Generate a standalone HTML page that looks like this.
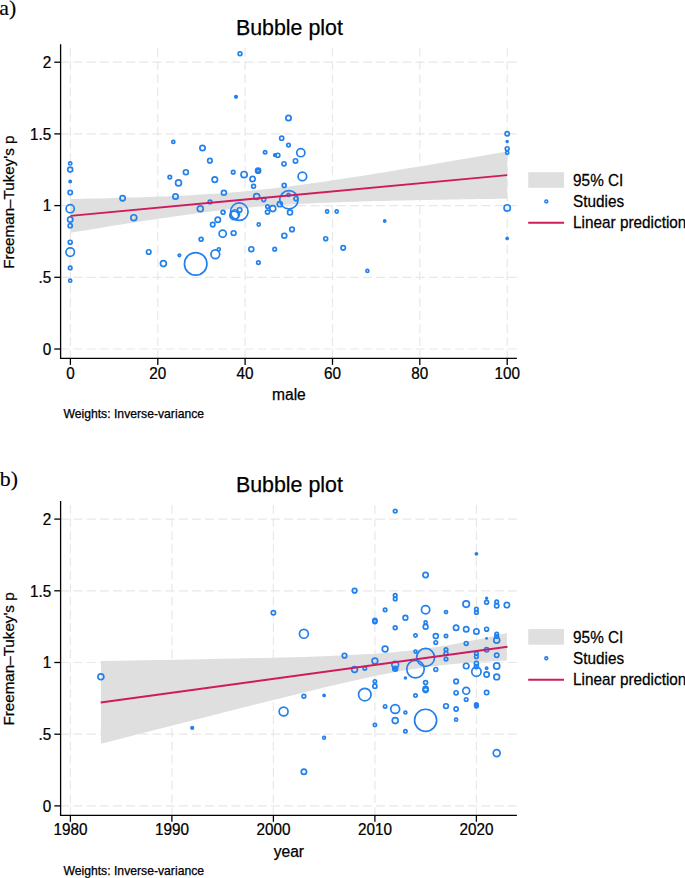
<!DOCTYPE html>
<html><head><meta charset="utf-8"><title>Bubble plots</title>
<style>html,body{margin:0;padding:0;background:#fff;width:685px;height:878px;overflow:hidden}svg{display:block}</style>
</head><body>
<svg width="685" height="878" viewBox="0 0 685 878">
<style>
text{font-family:"Liberation Sans",sans-serif;fill:#000;stroke:#000;stroke-width:0.25px}
.tk{font-size:16px}
.ti{font-size:15.6px}
.yt{font-size:15.2px}
.lg{font-size:16px}
.nt{font-size:12.2px}
.tt{font-size:21.4px}
.lab{font-family:"Liberation Serif",serif;font-size:21.8px;stroke-width:0.15px}
</style>
<rect width="685" height="878" fill="#fff"/>
<text x="-0.8" y="14.6" class="lab">a)</text>
<text x="-0.2" y="486.0" class="lab">b)</text>
<g id="a">
<line x1="60.3" y1="349.0" x2="516.9" y2="349.0" stroke="#e8e8e8" stroke-width="1.2" stroke-dasharray="9 4.16"/>
<line x1="60.3" y1="277.3" x2="516.9" y2="277.3" stroke="#e8e8e8" stroke-width="1.2" stroke-dasharray="9 4.16"/>
<line x1="60.3" y1="205.6" x2="516.9" y2="205.6" stroke="#e8e8e8" stroke-width="1.2" stroke-dasharray="9 4.16"/>
<line x1="60.3" y1="133.9" x2="516.9" y2="133.9" stroke="#e8e8e8" stroke-width="1.2" stroke-dasharray="9 4.16"/>
<line x1="60.3" y1="62.2" x2="516.9" y2="62.2" stroke="#e8e8e8" stroke-width="1.2" stroke-dasharray="9 4.16"/>
<line x1="70.4" y1="48.0" x2="70.4" y2="358.4" stroke="#e8e8e8" stroke-width="1.2" stroke-dasharray="8.8 4.35"/>
<line x1="157.8" y1="48.0" x2="157.8" y2="358.4" stroke="#e8e8e8" stroke-width="1.2" stroke-dasharray="8.8 4.35"/>
<line x1="245.1" y1="48.0" x2="245.1" y2="358.4" stroke="#e8e8e8" stroke-width="1.2" stroke-dasharray="8.8 4.35"/>
<line x1="332.5" y1="48.0" x2="332.5" y2="358.4" stroke="#e8e8e8" stroke-width="1.2" stroke-dasharray="8.8 4.35"/>
<line x1="419.8" y1="48.0" x2="419.8" y2="358.4" stroke="#e8e8e8" stroke-width="1.2" stroke-dasharray="8.8 4.35"/>
<line x1="507.2" y1="48.0" x2="507.2" y2="358.4" stroke="#e8e8e8" stroke-width="1.2" stroke-dasharray="8.8 4.35"/>
<polygon points="70.4,199.0 77.7,198.9 85.0,198.7 92.2,198.5 99.5,198.4 106.8,198.2 114.1,198.0 121.4,197.8 128.6,197.6 135.9,197.4 143.2,197.2 150.5,196.9 157.8,196.6 165.0,196.4 172.3,196.1 179.6,195.7 186.9,195.4 194.2,195.0 201.4,194.6 208.7,194.1 216.0,193.7 223.3,193.1 230.6,192.6 237.8,191.9 245.1,191.3 252.4,190.6 259.7,189.8 267.0,189.1 274.2,188.2 281.5,187.3 288.8,186.4 296.1,185.5 303.4,184.5 310.6,183.5 317.9,182.5 325.2,181.4 332.5,180.3 339.8,179.3 347.0,178.1 354.3,177.0 361.6,175.9 368.9,174.7 376.2,173.6 383.4,172.4 390.7,171.2 398.0,170.0 405.3,168.8 412.6,167.6 419.8,166.4 427.1,165.2 434.4,164.0 441.7,162.7 449.0,161.5 456.2,160.3 463.5,159.0 470.8,157.8 478.1,156.5 485.4,155.3 492.6,154.1 499.9,152.8 507.2,151.5 507.2,198.7 499.9,198.8 492.6,198.9 485.4,199.0 478.1,199.1 470.8,199.2 463.5,199.3 456.2,199.5 449.0,199.6 441.7,199.7 434.4,199.8 427.1,200.0 419.8,200.1 412.6,200.3 405.3,200.4 398.0,200.6 390.7,200.8 383.4,200.9 376.2,201.1 368.9,201.3 361.6,201.5 354.3,201.7 347.0,202.0 339.8,202.2 332.5,202.5 325.2,202.8 317.9,203.1 310.6,203.4 303.4,203.8 296.1,204.1 288.8,204.6 281.5,205.0 274.2,205.5 267.0,206.0 259.7,206.6 252.4,207.2 245.1,207.9 237.8,208.6 230.6,209.3 223.3,210.1 216.0,210.9 208.7,211.8 201.4,212.7 194.2,213.7 186.9,214.7 179.6,215.7 172.3,216.7 165.0,217.8 157.8,218.8 150.5,219.9 143.2,221.0 135.9,222.2 128.6,223.3 121.4,224.5 114.1,225.6 106.8,226.8 99.5,228.0 92.2,229.2 85.0,230.4 77.7,231.6 70.4,232.8" fill="#dfdfdf"/>
<circle cx="70.2" cy="163.4" r="1.60" fill="none" stroke="#2381ec" stroke-width="1.7"/>
<circle cx="70.2" cy="169.6" r="2.45" fill="none" stroke="#2381ec" stroke-width="1.7"/>
<circle cx="70.2" cy="181.5" r="1.90" fill="#2381ec"/>
<circle cx="70.2" cy="192.6" r="2.15" fill="none" stroke="#2381ec" stroke-width="1.7"/>
<circle cx="70.2" cy="208.7" r="4.05" fill="none" stroke="#2381ec" stroke-width="1.7"/>
<circle cx="70.2" cy="219.6" r="2.65" fill="none" stroke="#2381ec" stroke-width="1.7"/>
<circle cx="70.2" cy="225.7" r="2.05" fill="none" stroke="#2381ec" stroke-width="1.7"/>
<circle cx="70.2" cy="242.2" r="1.95" fill="none" stroke="#2381ec" stroke-width="1.7"/>
<circle cx="70.2" cy="252.1" r="4.25" fill="none" stroke="#2381ec" stroke-width="1.7"/>
<circle cx="70.2" cy="267.9" r="1.75" fill="none" stroke="#2381ec" stroke-width="1.7"/>
<circle cx="70.2" cy="280.7" r="1.55" fill="none" stroke="#2381ec" stroke-width="1.7"/>
<circle cx="122.6" cy="198.2" r="2.60" fill="none" stroke="#2381ec" stroke-width="1.7"/>
<circle cx="133.8" cy="217.7" r="2.95" fill="none" stroke="#2381ec" stroke-width="1.7"/>
<circle cx="148.7" cy="252.0" r="2.25" fill="none" stroke="#2381ec" stroke-width="1.7"/>
<circle cx="163.4" cy="263.6" r="2.95" fill="none" stroke="#2381ec" stroke-width="1.7"/>
<circle cx="179.4" cy="255.3" r="1.25" fill="none" stroke="#2381ec" stroke-width="1.7"/>
<circle cx="195.7" cy="263.9" r="11.25" fill="none" stroke="#2381ec" stroke-width="1.7"/>
<circle cx="173.3" cy="141.9" r="1.55" fill="none" stroke="#2381ec" stroke-width="1.7"/>
<circle cx="169.8" cy="177.1" r="1.75" fill="none" stroke="#2381ec" stroke-width="1.7"/>
<circle cx="175.5" cy="196.5" r="2.65" fill="none" stroke="#2381ec" stroke-width="1.7"/>
<circle cx="178.5" cy="182.9" r="2.95" fill="none" stroke="#2381ec" stroke-width="1.7"/>
<circle cx="185.9" cy="172.2" r="2.45" fill="none" stroke="#2381ec" stroke-width="1.7"/>
<circle cx="202.5" cy="148.0" r="2.65" fill="none" stroke="#2381ec" stroke-width="1.7"/>
<circle cx="209.9" cy="160.7" r="2.25" fill="none" stroke="#2381ec" stroke-width="1.7"/>
<circle cx="214.8" cy="179.6" r="2.75" fill="none" stroke="#2381ec" stroke-width="1.7"/>
<circle cx="223.9" cy="192.8" r="2.45" fill="none" stroke="#2381ec" stroke-width="1.7"/>
<circle cx="210.0" cy="201.9" r="1.80" fill="none" stroke="#2381ec" stroke-width="1.7"/>
<circle cx="200.3" cy="208.8" r="2.95" fill="none" stroke="#2381ec" stroke-width="1.7"/>
<circle cx="201.1" cy="239.3" r="1.95" fill="none" stroke="#2381ec" stroke-width="1.7"/>
<circle cx="223.1" cy="212.3" r="1.95" fill="none" stroke="#2381ec" stroke-width="1.7"/>
<circle cx="217.8" cy="219.7" r="2.65" fill="none" stroke="#2381ec" stroke-width="1.7"/>
<circle cx="212.7" cy="224.6" r="2.25" fill="none" stroke="#2381ec" stroke-width="1.7"/>
<circle cx="222.7" cy="233.7" r="3.60" fill="none" stroke="#2381ec" stroke-width="1.7"/>
<circle cx="233.6" cy="233.1" r="2.35" fill="none" stroke="#2381ec" stroke-width="1.7"/>
<circle cx="215.3" cy="254.2" r="4.35" fill="none" stroke="#2381ec" stroke-width="1.7"/>
<circle cx="218.8" cy="249.3" r="1.55" fill="none" stroke="#2381ec" stroke-width="1.7"/>
<circle cx="239.3" cy="211.7" r="8.75" fill="none" stroke="#2381ec" stroke-width="1.7"/>
<circle cx="239.6" cy="210.0" r="2.25" fill="none" stroke="#2381ec" stroke-width="1.7"/>
<circle cx="235.0" cy="214.3" r="4.55" fill="none" stroke="#2381ec" stroke-width="1.7"/>
<circle cx="234.2" cy="215.4" r="4.35" fill="none" stroke="#2381ec" stroke-width="1.7"/>
<circle cx="233.2" cy="172.2" r="1.75" fill="none" stroke="#2381ec" stroke-width="1.7"/>
<circle cx="244.1" cy="174.6" r="3.10" fill="none" stroke="#2381ec" stroke-width="1.7"/>
<circle cx="240.0" cy="53.8" r="1.90" fill="none" stroke="#2381ec" stroke-width="1.7"/>
<circle cx="236.0" cy="96.8" r="2.10" fill="#2381ec"/>
<circle cx="252.6" cy="179.0" r="2.65" fill="none" stroke="#2381ec" stroke-width="1.7"/>
<circle cx="253.6" cy="186.3" r="1.95" fill="none" stroke="#2381ec" stroke-width="1.7"/>
<circle cx="258.1" cy="170.7" r="2.00" fill="none" stroke="#2381ec" stroke-width="2.8"/>
<circle cx="256.7" cy="196.5" r="2.95" fill="none" stroke="#2381ec" stroke-width="1.7"/>
<circle cx="258.7" cy="224.5" r="1.55" fill="none" stroke="#2381ec" stroke-width="1.7"/>
<circle cx="251.3" cy="249.2" r="2.45" fill="none" stroke="#2381ec" stroke-width="1.7"/>
<circle cx="258.4" cy="262.6" r="1.75" fill="none" stroke="#2381ec" stroke-width="1.7"/>
<circle cx="265.1" cy="152.3" r="1.65" fill="none" stroke="#2381ec" stroke-width="1.7"/>
<circle cx="275.0" cy="155.1" r="2.20" fill="#2381ec"/>
<circle cx="277.8" cy="155.3" r="2.05" fill="none" stroke="#2381ec" stroke-width="1.7"/>
<circle cx="281.7" cy="138.2" r="2.05" fill="none" stroke="#2381ec" stroke-width="1.7"/>
<circle cx="288.5" cy="118.0" r="2.65" fill="none" stroke="#2381ec" stroke-width="1.7"/>
<circle cx="288.5" cy="145.1" r="1.75" fill="none" stroke="#2381ec" stroke-width="1.7"/>
<circle cx="284.0" cy="163.8" r="2.05" fill="none" stroke="#2381ec" stroke-width="1.7"/>
<circle cx="295.5" cy="160.9" r="2.15" fill="none" stroke="#2381ec" stroke-width="1.7"/>
<circle cx="300.8" cy="152.7" r="4.05" fill="none" stroke="#2381ec" stroke-width="1.7"/>
<circle cx="302.4" cy="176.4" r="4.30" fill="none" stroke="#2381ec" stroke-width="1.7"/>
<circle cx="284.2" cy="185.4" r="1.95" fill="none" stroke="#2381ec" stroke-width="1.7"/>
<circle cx="263.7" cy="199.6" r="1.95" fill="none" stroke="#2381ec" stroke-width="1.7"/>
<circle cx="288.9" cy="199.8" r="9.15" fill="none" stroke="#2381ec" stroke-width="1.7"/>
<circle cx="288.5" cy="194.9" r="1.45" fill="none" stroke="#2381ec" stroke-width="1.7"/>
<circle cx="295.9" cy="198.7" r="1.95" fill="none" stroke="#2381ec" stroke-width="1.7"/>
<circle cx="279.8" cy="204.2" r="2.55" fill="none" stroke="#2381ec" stroke-width="1.7"/>
<circle cx="267.5" cy="206.6" r="1.75" fill="none" stroke="#2381ec" stroke-width="1.7"/>
<circle cx="272.8" cy="208.6" r="2.95" fill="none" stroke="#2381ec" stroke-width="1.7"/>
<circle cx="267.5" cy="212.1" r="2.05" fill="none" stroke="#2381ec" stroke-width="1.7"/>
<circle cx="290.0" cy="212.4" r="2.45" fill="none" stroke="#2381ec" stroke-width="1.7"/>
<circle cx="292.0" cy="229.4" r="2.25" fill="none" stroke="#2381ec" stroke-width="1.7"/>
<circle cx="284.3" cy="235.7" r="2.45" fill="none" stroke="#2381ec" stroke-width="1.7"/>
<circle cx="274.7" cy="249.2" r="1.75" fill="none" stroke="#2381ec" stroke-width="1.7"/>
<circle cx="327.1" cy="211.5" r="1.55" fill="none" stroke="#2381ec" stroke-width="1.7"/>
<circle cx="336.7" cy="211.5" r="1.55" fill="none" stroke="#2381ec" stroke-width="1.7"/>
<circle cx="325.7" cy="238.7" r="1.95" fill="none" stroke="#2381ec" stroke-width="1.7"/>
<circle cx="343.2" cy="247.8" r="2.25" fill="none" stroke="#2381ec" stroke-width="1.7"/>
<circle cx="367.4" cy="270.9" r="1.45" fill="none" stroke="#2381ec" stroke-width="1.7"/>
<circle cx="384.7" cy="221.0" r="1.90" fill="#2381ec"/>
<circle cx="507.2" cy="133.8" r="2.15" fill="none" stroke="#2381ec" stroke-width="1.7"/>
<circle cx="507.2" cy="141.6" r="1.75" fill="#2381ec"/>
<circle cx="507.2" cy="148.7" r="1.95" fill="none" stroke="#2381ec" stroke-width="1.7"/>
<circle cx="507.2" cy="152.8" r="1.55" fill="none" stroke="#2381ec" stroke-width="1.7"/>
<circle cx="507.2" cy="207.9" r="3.15" fill="none" stroke="#2381ec" stroke-width="1.7"/>
<circle cx="507.2" cy="238.4" r="1.85" fill="#2381ec"/>
<line x1="70.4" y1="215.9" x2="507.2" y2="175.1" stroke="#d01a5e" stroke-width="1.9"/>
<line x1="60.6" y1="44.2" x2="60.6" y2="359.0" stroke="#000" stroke-width="1.3"/>
<line x1="60.0" y1="358.4" x2="516.9" y2="358.4" stroke="#000" stroke-width="1.3"/>
<line x1="54.3" y1="349.0" x2="60.6" y2="349.0" stroke="#000" stroke-width="1.3"/>
<text transform="translate(51.3,354.8) scale(0.955,1)" text-anchor="end" class="tk">0</text>
<line x1="54.3" y1="277.3" x2="60.6" y2="277.3" stroke="#000" stroke-width="1.3"/>
<text transform="translate(51.3,283.1) scale(0.955,1)" text-anchor="end" class="tk">.5</text>
<line x1="54.3" y1="205.6" x2="60.6" y2="205.6" stroke="#000" stroke-width="1.3"/>
<text transform="translate(51.3,211.3) scale(0.955,1)" text-anchor="end" class="tk">1</text>
<line x1="54.3" y1="133.9" x2="60.6" y2="133.9" stroke="#000" stroke-width="1.3"/>
<text transform="translate(51.3,139.6) scale(0.955,1)" text-anchor="end" class="tk">1.5</text>
<line x1="54.3" y1="62.2" x2="60.6" y2="62.2" stroke="#000" stroke-width="1.3"/>
<text transform="translate(51.3,67.9) scale(0.955,1)" text-anchor="end" class="tk">2</text>
<line x1="70.4" y1="358.4" x2="70.4" y2="364.9" stroke="#000" stroke-width="1.3"/>
<text transform="translate(70.4,378.5) scale(0.955,1)" text-anchor="middle" class="tk">0</text>
<line x1="157.8" y1="358.4" x2="157.8" y2="364.9" stroke="#000" stroke-width="1.3"/>
<text transform="translate(157.8,378.5) scale(0.955,1)" text-anchor="middle" class="tk">20</text>
<line x1="245.1" y1="358.4" x2="245.1" y2="364.9" stroke="#000" stroke-width="1.3"/>
<text transform="translate(245.1,378.5) scale(0.955,1)" text-anchor="middle" class="tk">40</text>
<line x1="332.5" y1="358.4" x2="332.5" y2="364.9" stroke="#000" stroke-width="1.3"/>
<text transform="translate(332.5,378.5) scale(0.955,1)" text-anchor="middle" class="tk">60</text>
<line x1="419.8" y1="358.4" x2="419.8" y2="364.9" stroke="#000" stroke-width="1.3"/>
<text transform="translate(419.8,378.5) scale(0.955,1)" text-anchor="middle" class="tk">80</text>
<line x1="507.2" y1="358.4" x2="507.2" y2="364.9" stroke="#000" stroke-width="1.3"/>
<text transform="translate(507.2,378.5) scale(0.955,1)" text-anchor="middle" class="tk">100</text>
<text x="288.9" y="399.7" text-anchor="middle" class="ti">male</text>
<text x="63.4" y="418.2" class="nt">Weights: Inverse-variance</text>
<text x="289.4" y="35.3" text-anchor="middle" class="tt">Bubble plot</text>
<text transform="translate(14.1,202.1) rotate(-90)" text-anchor="middle" class="yt">Freeman–Tukey's p</text>
<rect x="528.2" y="172.2" width="35.8" height="15.6" fill="#dfdfdf"/>
<text transform="translate(573.1,185.9) scale(0.958,1)" class="lg">95% CI</text>
<circle cx="546.3" cy="201.4" r="1.4" fill="none" stroke="#2381ec" stroke-width="1.6"/>
<text transform="translate(573.1,206.9) scale(0.958,1)" class="lg">Studies</text>
<line x1="528.2" y1="222.8" x2="564.0" y2="222.8" stroke="#d01a5e" stroke-width="2"/>
<text transform="translate(573.1,228.0) scale(0.958,1)" class="lg">Linear prediction</text>
</g>
<g id="b">
<line x1="60.3" y1="805.9" x2="516.9" y2="805.9" stroke="#e8e8e8" stroke-width="1.2" stroke-dasharray="9 4.16"/>
<line x1="60.3" y1="734.2" x2="516.9" y2="734.2" stroke="#e8e8e8" stroke-width="1.2" stroke-dasharray="9 4.16"/>
<line x1="60.3" y1="662.5" x2="516.9" y2="662.5" stroke="#e8e8e8" stroke-width="1.2" stroke-dasharray="9 4.16"/>
<line x1="60.3" y1="590.8" x2="516.9" y2="590.8" stroke="#e8e8e8" stroke-width="1.2" stroke-dasharray="9 4.16"/>
<line x1="60.3" y1="519.1" x2="516.9" y2="519.1" stroke="#e8e8e8" stroke-width="1.2" stroke-dasharray="9 4.16"/>
<line x1="70.4" y1="504.9" x2="70.4" y2="815.3" stroke="#e8e8e8" stroke-width="1.2" stroke-dasharray="8.8 4.35"/>
<line x1="171.9" y1="504.9" x2="171.9" y2="815.3" stroke="#e8e8e8" stroke-width="1.2" stroke-dasharray="8.8 4.35"/>
<line x1="273.4" y1="504.9" x2="273.4" y2="815.3" stroke="#e8e8e8" stroke-width="1.2" stroke-dasharray="8.8 4.35"/>
<line x1="374.9" y1="504.9" x2="374.9" y2="815.3" stroke="#e8e8e8" stroke-width="1.2" stroke-dasharray="8.8 4.35"/>
<line x1="476.4" y1="504.9" x2="476.4" y2="815.3" stroke="#e8e8e8" stroke-width="1.2" stroke-dasharray="8.8 4.35"/>
<polygon points="100.9,661.1 192.2,659.5 273.4,657.7 283.6,657.5 303.9,656.9 324.1,656.2 344.5,655.3 354.6,654.8 364.8,654.3 374.9,653.7 385.1,652.9 395.2,652.1 405.4,651.1 415.5,649.9 425.6,648.6 435.8,647.2 446.0,645.5 456.1,643.8 466.2,641.8 476.4,639.8 486.6,637.7 496.7,635.4 506.9,633.1 506.9,660.4 496.7,660.9 486.6,661.5 476.4,662.1 466.2,662.9 456.1,663.7 446.0,664.7 435.8,665.9 425.6,667.2 415.5,668.7 405.4,670.3 395.2,672.1 385.1,674.1 374.9,676.1 364.8,678.3 354.6,680.5 344.5,682.8 324.1,687.5 303.9,692.4 283.6,697.4 273.4,699.9 192.2,720.4 100.9,743.8" fill="#dfdfdf"/>
<circle cx="100.9" cy="676.8" r="2.95" fill="none" stroke="#2381ec" stroke-width="1.7"/>
<circle cx="192.2" cy="727.9" r="2.10" fill="#2381ec"/>
<circle cx="273.4" cy="612.8" r="2.15" fill="none" stroke="#2381ec" stroke-width="1.7"/>
<circle cx="283.6" cy="711.5" r="4.45" fill="none" stroke="#2381ec" stroke-width="1.7"/>
<circle cx="303.9" cy="633.8" r="4.45" fill="none" stroke="#2381ec" stroke-width="1.7"/>
<circle cx="303.9" cy="696.3" r="1.85" fill="none" stroke="#2381ec" stroke-width="1.7"/>
<circle cx="303.9" cy="771.7" r="2.65" fill="none" stroke="#2381ec" stroke-width="1.7"/>
<circle cx="324.1" cy="695.4" r="1.90" fill="#2381ec"/>
<circle cx="324.1" cy="737.8" r="0.80" fill="none" stroke="#2381ec" stroke-width="2.8"/>
<circle cx="344.5" cy="655.7" r="2.25" fill="none" stroke="#2381ec" stroke-width="1.7"/>
<circle cx="354.6" cy="590.7" r="2.25" fill="none" stroke="#2381ec" stroke-width="1.7"/>
<circle cx="354.6" cy="669.5" r="2.85" fill="none" stroke="#2381ec" stroke-width="1.7"/>
<circle cx="364.8" cy="668.3" r="1.75" fill="none" stroke="#2381ec" stroke-width="1.7"/>
<circle cx="364.8" cy="694.6" r="6.25" fill="none" stroke="#2381ec" stroke-width="1.7"/>
<circle cx="374.9" cy="620.4" r="2.05" fill="none" stroke="#2381ec" stroke-width="1.7"/>
<circle cx="374.9" cy="621.6" r="2.05" fill="none" stroke="#2381ec" stroke-width="1.7"/>
<circle cx="374.9" cy="661.0" r="2.85" fill="none" stroke="#2381ec" stroke-width="1.7"/>
<circle cx="374.9" cy="681.4" r="1.65" fill="none" stroke="#2381ec" stroke-width="1.7"/>
<circle cx="374.9" cy="686.2" r="2.05" fill="none" stroke="#2381ec" stroke-width="1.7"/>
<circle cx="374.9" cy="725.0" r="1.65" fill="none" stroke="#2381ec" stroke-width="1.7"/>
<circle cx="385.1" cy="609.8" r="1.75" fill="none" stroke="#2381ec" stroke-width="1.7"/>
<circle cx="385.1" cy="649.0" r="2.85" fill="none" stroke="#2381ec" stroke-width="1.7"/>
<circle cx="385.1" cy="706.4" r="1.65" fill="none" stroke="#2381ec" stroke-width="1.7"/>
<circle cx="395.2" cy="511.1" r="1.80" fill="none" stroke="#2381ec" stroke-width="1.7"/>
<circle cx="395.2" cy="595.4" r="1.75" fill="none" stroke="#2381ec" stroke-width="1.7"/>
<circle cx="395.2" cy="598.9" r="1.75" fill="none" stroke="#2381ec" stroke-width="1.7"/>
<circle cx="395.2" cy="627.7" r="1.90" fill="none" stroke="#2381ec" stroke-width="1.7"/>
<circle cx="395.2" cy="664.8" r="3.35" fill="none" stroke="#2381ec" stroke-width="1.7"/>
<circle cx="395.2" cy="668.8" r="3.30" fill="#2381ec"/>
<circle cx="395.2" cy="709.0" r="4.45" fill="none" stroke="#2381ec" stroke-width="1.7"/>
<circle cx="395.2" cy="720.6" r="2.95" fill="none" stroke="#2381ec" stroke-width="1.7"/>
<circle cx="405.4" cy="617.8" r="2.35" fill="none" stroke="#2381ec" stroke-width="1.7"/>
<circle cx="405.4" cy="677.9" r="1.75" fill="#2381ec"/>
<circle cx="405.4" cy="712.5" r="1.45" fill="none" stroke="#2381ec" stroke-width="1.7"/>
<circle cx="405.4" cy="731.2" r="1.65" fill="none" stroke="#2381ec" stroke-width="1.7"/>
<circle cx="415.5" cy="635.5" r="1.65" fill="none" stroke="#2381ec" stroke-width="1.7"/>
<circle cx="415.5" cy="651.6" r="1.45" fill="none" stroke="#2381ec" stroke-width="1.7"/>
<circle cx="415.5" cy="669.1" r="8.75" fill="none" stroke="#2381ec" stroke-width="1.7"/>
<circle cx="415.5" cy="695.6" r="1.65" fill="none" stroke="#2381ec" stroke-width="1.7"/>
<circle cx="425.6" cy="575.0" r="2.65" fill="none" stroke="#2381ec" stroke-width="1.7"/>
<circle cx="425.6" cy="609.8" r="4.15" fill="none" stroke="#2381ec" stroke-width="1.7"/>
<circle cx="425.6" cy="622.5" r="1.55" fill="none" stroke="#2381ec" stroke-width="1.7"/>
<circle cx="425.6" cy="626.7" r="2.35" fill="none" stroke="#2381ec" stroke-width="1.7"/>
<circle cx="425.6" cy="657.4" r="8.95" fill="none" stroke="#2381ec" stroke-width="1.7"/>
<circle cx="425.6" cy="682.6" r="1.95" fill="none" stroke="#2381ec" stroke-width="1.7"/>
<circle cx="425.6" cy="688.9" r="2.45" fill="none" stroke="#2381ec" stroke-width="1.7"/>
<circle cx="425.6" cy="690.1" r="2.45" fill="none" stroke="#2381ec" stroke-width="1.7"/>
<circle cx="425.6" cy="720.3" r="11.05" fill="none" stroke="#2381ec" stroke-width="1.7"/>
<circle cx="435.8" cy="636.1" r="2.45" fill="none" stroke="#2381ec" stroke-width="1.7"/>
<circle cx="435.8" cy="642.5" r="1.75" fill="none" stroke="#2381ec" stroke-width="1.7"/>
<circle cx="435.8" cy="669.4" r="1.90" fill="none" stroke="#2381ec" stroke-width="1.7"/>
<circle cx="446.0" cy="612.1" r="1.55" fill="none" stroke="#2381ec" stroke-width="1.7"/>
<circle cx="446.0" cy="636.1" r="1.65" fill="none" stroke="#2381ec" stroke-width="1.7"/>
<circle cx="446.0" cy="649.7" r="1.75" fill="none" stroke="#2381ec" stroke-width="1.7"/>
<circle cx="446.0" cy="653.4" r="1.90" fill="none" stroke="#2381ec" stroke-width="1.7"/>
<circle cx="446.0" cy="659.1" r="1.75" fill="none" stroke="#2381ec" stroke-width="1.7"/>
<circle cx="446.0" cy="706.1" r="2.35" fill="none" stroke="#2381ec" stroke-width="1.7"/>
<circle cx="456.1" cy="627.8" r="2.65" fill="none" stroke="#2381ec" stroke-width="1.7"/>
<circle cx="456.1" cy="681.4" r="2.25" fill="none" stroke="#2381ec" stroke-width="1.7"/>
<circle cx="456.1" cy="692.8" r="2.05" fill="none" stroke="#2381ec" stroke-width="1.7"/>
<circle cx="456.1" cy="709.0" r="2.05" fill="none" stroke="#2381ec" stroke-width="1.7"/>
<circle cx="456.1" cy="719.7" r="1.55" fill="none" stroke="#2381ec" stroke-width="1.7"/>
<circle cx="466.2" cy="604.1" r="3.25" fill="none" stroke="#2381ec" stroke-width="1.7"/>
<circle cx="466.2" cy="629.3" r="2.65" fill="none" stroke="#2381ec" stroke-width="1.7"/>
<circle cx="466.2" cy="643.4" r="1.90" fill="none" stroke="#2381ec" stroke-width="1.7"/>
<circle cx="466.2" cy="666.0" r="2.75" fill="none" stroke="#2381ec" stroke-width="1.7"/>
<circle cx="466.2" cy="690.8" r="3.45" fill="none" stroke="#2381ec" stroke-width="1.7"/>
<circle cx="466.2" cy="699.5" r="1.75" fill="none" stroke="#2381ec" stroke-width="1.7"/>
<circle cx="476.4" cy="553.8" r="1.90" fill="#2381ec"/>
<circle cx="476.4" cy="609.2" r="1.75" fill="none" stroke="#2381ec" stroke-width="1.7"/>
<circle cx="476.4" cy="612.4" r="1.75" fill="none" stroke="#2381ec" stroke-width="1.7"/>
<circle cx="476.4" cy="631.4" r="2.65" fill="none" stroke="#2381ec" stroke-width="1.7"/>
<circle cx="476.4" cy="653.5" r="1.75" fill="none" stroke="#2381ec" stroke-width="1.7"/>
<circle cx="476.4" cy="656.7" r="1.75" fill="none" stroke="#2381ec" stroke-width="1.7"/>
<circle cx="476.4" cy="663.5" r="2.05" fill="none" stroke="#2381ec" stroke-width="1.7"/>
<circle cx="476.4" cy="666.6" r="2.05" fill="none" stroke="#2381ec" stroke-width="1.7"/>
<circle cx="476.4" cy="671.7" r="4.65" fill="none" stroke="#2381ec" stroke-width="1.7"/>
<circle cx="476.4" cy="704.7" r="1.20" fill="none" stroke="#2381ec" stroke-width="2.8"/>
<circle cx="476.4" cy="706.1" r="1.20" fill="none" stroke="#2381ec" stroke-width="2.8"/>
<circle cx="486.6" cy="598.2" r="0.85" fill="none" stroke="#2381ec" stroke-width="1.7"/>
<circle cx="486.6" cy="602.3" r="1.95" fill="none" stroke="#2381ec" stroke-width="1.7"/>
<circle cx="486.6" cy="629.2" r="1.95" fill="none" stroke="#2381ec" stroke-width="1.7"/>
<circle cx="486.6" cy="638.4" r="1.40" fill="#2381ec"/>
<circle cx="486.6" cy="649.7" r="2.15" fill="none" stroke="#2381ec" stroke-width="1.7"/>
<circle cx="486.6" cy="668.2" r="1.15" fill="none" stroke="#2381ec" stroke-width="1.7"/>
<circle cx="486.6" cy="674.5" r="2.65" fill="none" stroke="#2381ec" stroke-width="1.7"/>
<circle cx="486.6" cy="692.6" r="2.15" fill="none" stroke="#2381ec" stroke-width="1.7"/>
<circle cx="496.7" cy="601.9" r="1.75" fill="none" stroke="#2381ec" stroke-width="1.7"/>
<circle cx="496.7" cy="605.7" r="2.15" fill="none" stroke="#2381ec" stroke-width="1.7"/>
<circle cx="496.7" cy="634.2" r="1.75" fill="none" stroke="#2381ec" stroke-width="1.7"/>
<circle cx="496.7" cy="636.5" r="1.75" fill="none" stroke="#2381ec" stroke-width="1.7"/>
<circle cx="496.7" cy="640.2" r="2.95" fill="none" stroke="#2381ec" stroke-width="1.7"/>
<circle cx="496.7" cy="655.3" r="2.15" fill="none" stroke="#2381ec" stroke-width="1.7"/>
<circle cx="496.7" cy="666.0" r="3.05" fill="none" stroke="#2381ec" stroke-width="1.7"/>
<circle cx="496.7" cy="676.9" r="2.85" fill="none" stroke="#2381ec" stroke-width="1.7"/>
<circle cx="496.7" cy="753.1" r="3.45" fill="none" stroke="#2381ec" stroke-width="1.7"/>
<circle cx="506.9" cy="605.1" r="2.65" fill="none" stroke="#2381ec" stroke-width="1.7"/>
<line x1="100.7" y1="702.5" x2="507.5" y2="646.7" stroke="#d01a5e" stroke-width="1.9"/>
<line x1="60.6" y1="501.1" x2="60.6" y2="815.9" stroke="#000" stroke-width="1.3"/>
<line x1="60.0" y1="815.3" x2="516.9" y2="815.3" stroke="#000" stroke-width="1.3"/>
<line x1="54.3" y1="805.9" x2="60.6" y2="805.9" stroke="#000" stroke-width="1.3"/>
<text transform="translate(51.3,811.6) scale(0.955,1)" text-anchor="end" class="tk">0</text>
<line x1="54.3" y1="734.2" x2="60.6" y2="734.2" stroke="#000" stroke-width="1.3"/>
<text transform="translate(51.3,740.0) scale(0.955,1)" text-anchor="end" class="tk">.5</text>
<line x1="54.3" y1="662.5" x2="60.6" y2="662.5" stroke="#000" stroke-width="1.3"/>
<text transform="translate(51.3,668.2) scale(0.955,1)" text-anchor="end" class="tk">1</text>
<line x1="54.3" y1="590.8" x2="60.6" y2="590.8" stroke="#000" stroke-width="1.3"/>
<text transform="translate(51.3,596.5) scale(0.955,1)" text-anchor="end" class="tk">1.5</text>
<line x1="54.3" y1="519.1" x2="60.6" y2="519.1" stroke="#000" stroke-width="1.3"/>
<text transform="translate(51.3,524.8) scale(0.955,1)" text-anchor="end" class="tk">2</text>
<line x1="70.4" y1="815.3" x2="70.4" y2="821.8" stroke="#000" stroke-width="1.3"/>
<text transform="translate(70.4,835.4) scale(0.955,1)" text-anchor="middle" class="tk">1980</text>
<line x1="171.9" y1="815.3" x2="171.9" y2="821.8" stroke="#000" stroke-width="1.3"/>
<text transform="translate(171.9,835.4) scale(0.955,1)" text-anchor="middle" class="tk">1990</text>
<line x1="273.4" y1="815.3" x2="273.4" y2="821.8" stroke="#000" stroke-width="1.3"/>
<text transform="translate(273.4,835.4) scale(0.955,1)" text-anchor="middle" class="tk">2000</text>
<line x1="374.9" y1="815.3" x2="374.9" y2="821.8" stroke="#000" stroke-width="1.3"/>
<text transform="translate(374.9,835.4) scale(0.955,1)" text-anchor="middle" class="tk">2010</text>
<line x1="476.4" y1="815.3" x2="476.4" y2="821.8" stroke="#000" stroke-width="1.3"/>
<text transform="translate(476.4,835.4) scale(0.955,1)" text-anchor="middle" class="tk">2020</text>
<text x="288.9" y="856.6" text-anchor="middle" class="ti">year</text>
<text x="63.4" y="875.1" class="nt">Weights: Inverse-variance</text>
<text x="289.4" y="492.2" text-anchor="middle" class="tt">Bubble plot</text>
<text transform="translate(14.1,659.0) rotate(-90)" text-anchor="middle" class="yt">Freeman–Tukey's p</text>
<rect x="528.2" y="629.1" width="35.8" height="15.6" fill="#dfdfdf"/>
<text transform="translate(573.1,642.8) scale(0.958,1)" class="lg">95% CI</text>
<circle cx="546.3" cy="658.3" r="1.4" fill="none" stroke="#2381ec" stroke-width="1.6"/>
<text transform="translate(573.1,663.8) scale(0.958,1)" class="lg">Studies</text>
<line x1="528.2" y1="679.7" x2="564.0" y2="679.7" stroke="#d01a5e" stroke-width="2"/>
<text transform="translate(573.1,684.9) scale(0.958,1)" class="lg">Linear prediction</text>
</g>
</svg>
</body></html>
